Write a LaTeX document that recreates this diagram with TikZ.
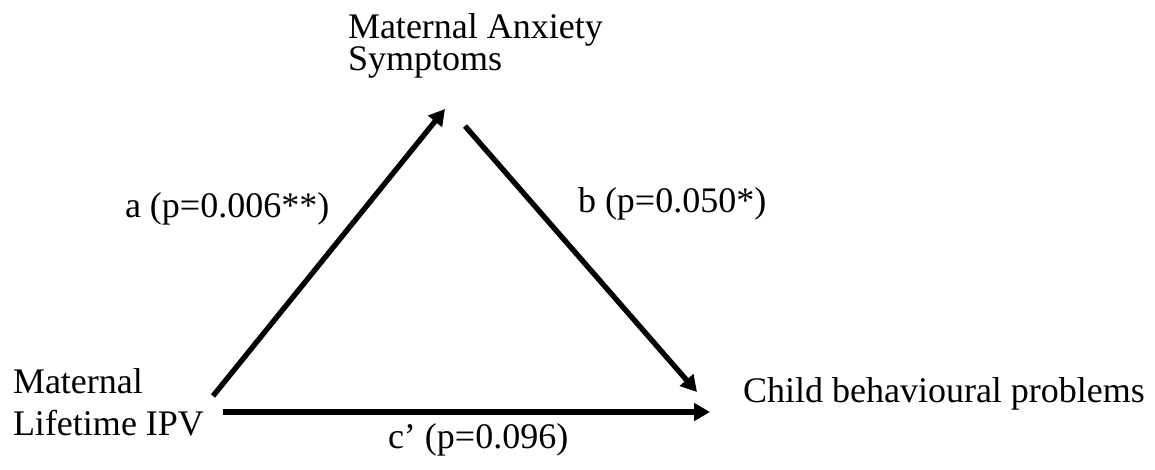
\documentclass[tikz,border=0pt]{standalone}
\usepackage{fontspec}
\setmainfont{Liberation Serif}
\usetikzlibrary{arrows.meta}
\begin{document}
\begin{tikzpicture}[x=0.75pt,y=-0.75pt,
  lbl/.style={inner sep=0pt,outer sep=0pt,anchor=base west,font=\fontsize{27}{30}\selectfont},
  conn/.style={line width=4pt,-{Triangle[length=12pt,width=13pt]}}]
\useasboundingbox (0,0) rectangle (1155,469);
\node[lbl,align=left,font=\fontsize{27}{24}\selectfont] (anx) at (348,70) {Maternal Anxiety\\Symptoms};
\node[lbl,align=left,font=\fontsize{27}{31.5}\selectfont] (ipv) at (13,435) {Maternal\\Lifetime IPV};
\node[lbl] (child) at (743,402) {Child behavioural problems};
\coordinate (aS) at (213,396);
\coordinate (aE) at (445,109);
\coordinate (bS) at (465,126);
\coordinate (bE) at (697,392);
\coordinate (cS) at (223,412);
\coordinate (cE) at (710,412);
\draw[conn] (aS) -- (aE);
\draw[conn] (bS) -- (bE);
\draw[conn] (cS) -- (cE);
\node[lbl] (la) at (125,217) {a (p=0.006**)};
\node[lbl] (lb) at (578,212) {b (p=0.050*)};
\node[lbl] (lc) at (388,448) {c’ (p=0.096)};
\end{tikzpicture}
\end{document}
